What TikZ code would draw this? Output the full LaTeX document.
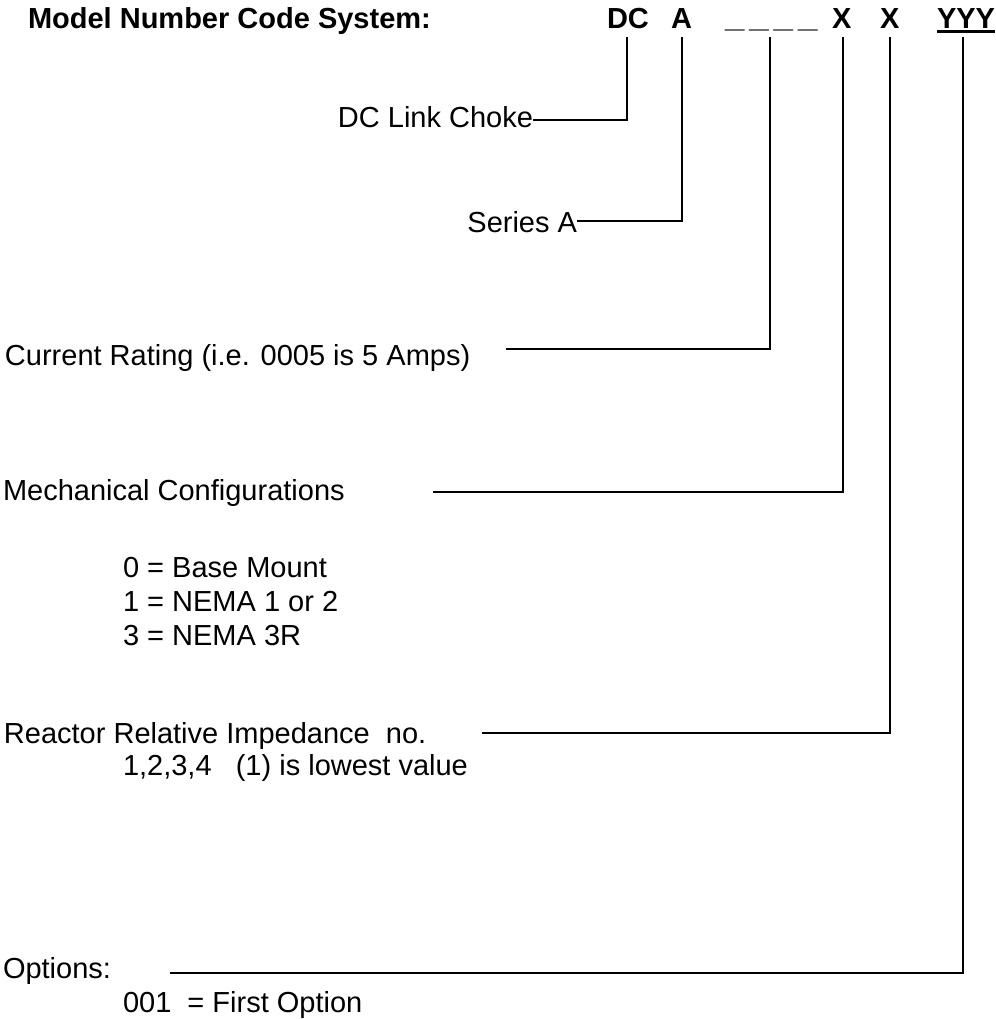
\documentclass[tikz,border=0pt]{standalone}
\usepackage{fontspec}
\setmainfont{Liberation Sans}
\newcommand{\widebar}{\scalebox{1.2}[1]{\_}}
\begin{document}
\begin{tikzpicture}[x=1pt,y=-1pt,
  lbl/.style={inner sep=0pt, outer sep=0pt, font=\fontsize{29}{33.5}\selectfont},
  codetxt/.style={inner sep=0pt, outer sep=0pt, font=\fontsize{29}{33.5}\selectfont\bfseries},
  conn/.style={line width=2pt, line join=miter},
  ul/.style={line width=3pt}]
\useasboundingbox (0,0) rectangle (995,1019);

% header and code letters
\node[codetxt, anchor=base west] (title) at (28,29) {Model Number Code System:};
\node[codetxt, anchor=base west] (cDC) at (607,29) {DC};
\node[codetxt, anchor=base west] (cA) at (671,29) {A};
\node[codetxt, anchor=base west] (cNum) at (725,28) {\widebar\kern5pt\widebar\kern5pt\widebar\kern5pt\widebar};
\node[codetxt, anchor=base west] (cX1) at (832,29) {X};
\node[codetxt, anchor=base west] (cX2) at (880,29) {X};
\node[codetxt, anchor=base west] (cY) at (937,29) {YYY};
\draw[ul] ([yshift=-3pt]cY.base west) -- ([yshift=-3pt]cY.base east);

% tops of the leader lines
\coordinate (tDC) at (627,37);
\coordinate (tA) at (682,37);
\coordinate (tNum) at (770,37);
\coordinate (tX1) at (843,37);
\coordinate (tX2) at (890,37);
\coordinate (tY) at (963,37);

% labels
\node[lbl, anchor=base east] (lDC) at (533,128) {DC Link Choke};
\node[lbl, anchor=base east] (lA) at (577,232) {Series A};
\node[lbl, anchor=base west] (lNum) at (5,365) {Current Rating (i.e. 0005 is 5 Amps)};
\node[lbl, anchor=base west] (lMech) at (3,500) {Mechanical Configurations};
\node[lbl, anchor=base west] (m0) at (123,577) {0 = Base Mount};
\node[lbl, anchor=base west] (m1) at (123,611) {1 = NEMA 1 or 2};
\node[lbl, anchor=base west] (m3) at (123,645) {3 = NEMA 3R};
\node[lbl, anchor=base west] (lImp) at (4,743) {Reactor Relative Impedance\ \ no.};
\node[lbl, anchor=base west] (imp1) at (123,775) {1,2,3,4\ \ \ (1) is lowest value};
\node[lbl, anchor=base west] (lOpt) at (3,978) {Options:};
\node[lbl, anchor=base west] (opt1) at (123,1012) {001\ \ = First Option};

% start points of the leader lines
\coordinate (sDC) at (533,120);
\coordinate (sA) at (577,221);
\coordinate (sNum) at (506,349);
\coordinate (sMech) at (433,492);
\coordinate (sImp) at (482,733);
\coordinate (sOpt) at (170,973);

% leader lines
\draw[conn] (sDC) -| (tDC);
\draw[conn] (sA) -| (tA);
\draw[conn] (sNum) -| (tNum);
\draw[conn] (sMech) -| (tX1);
\draw[conn] (sImp) -| (tX2);
\draw[conn] (sOpt) -| (tY);
\end{tikzpicture}
\end{document}
